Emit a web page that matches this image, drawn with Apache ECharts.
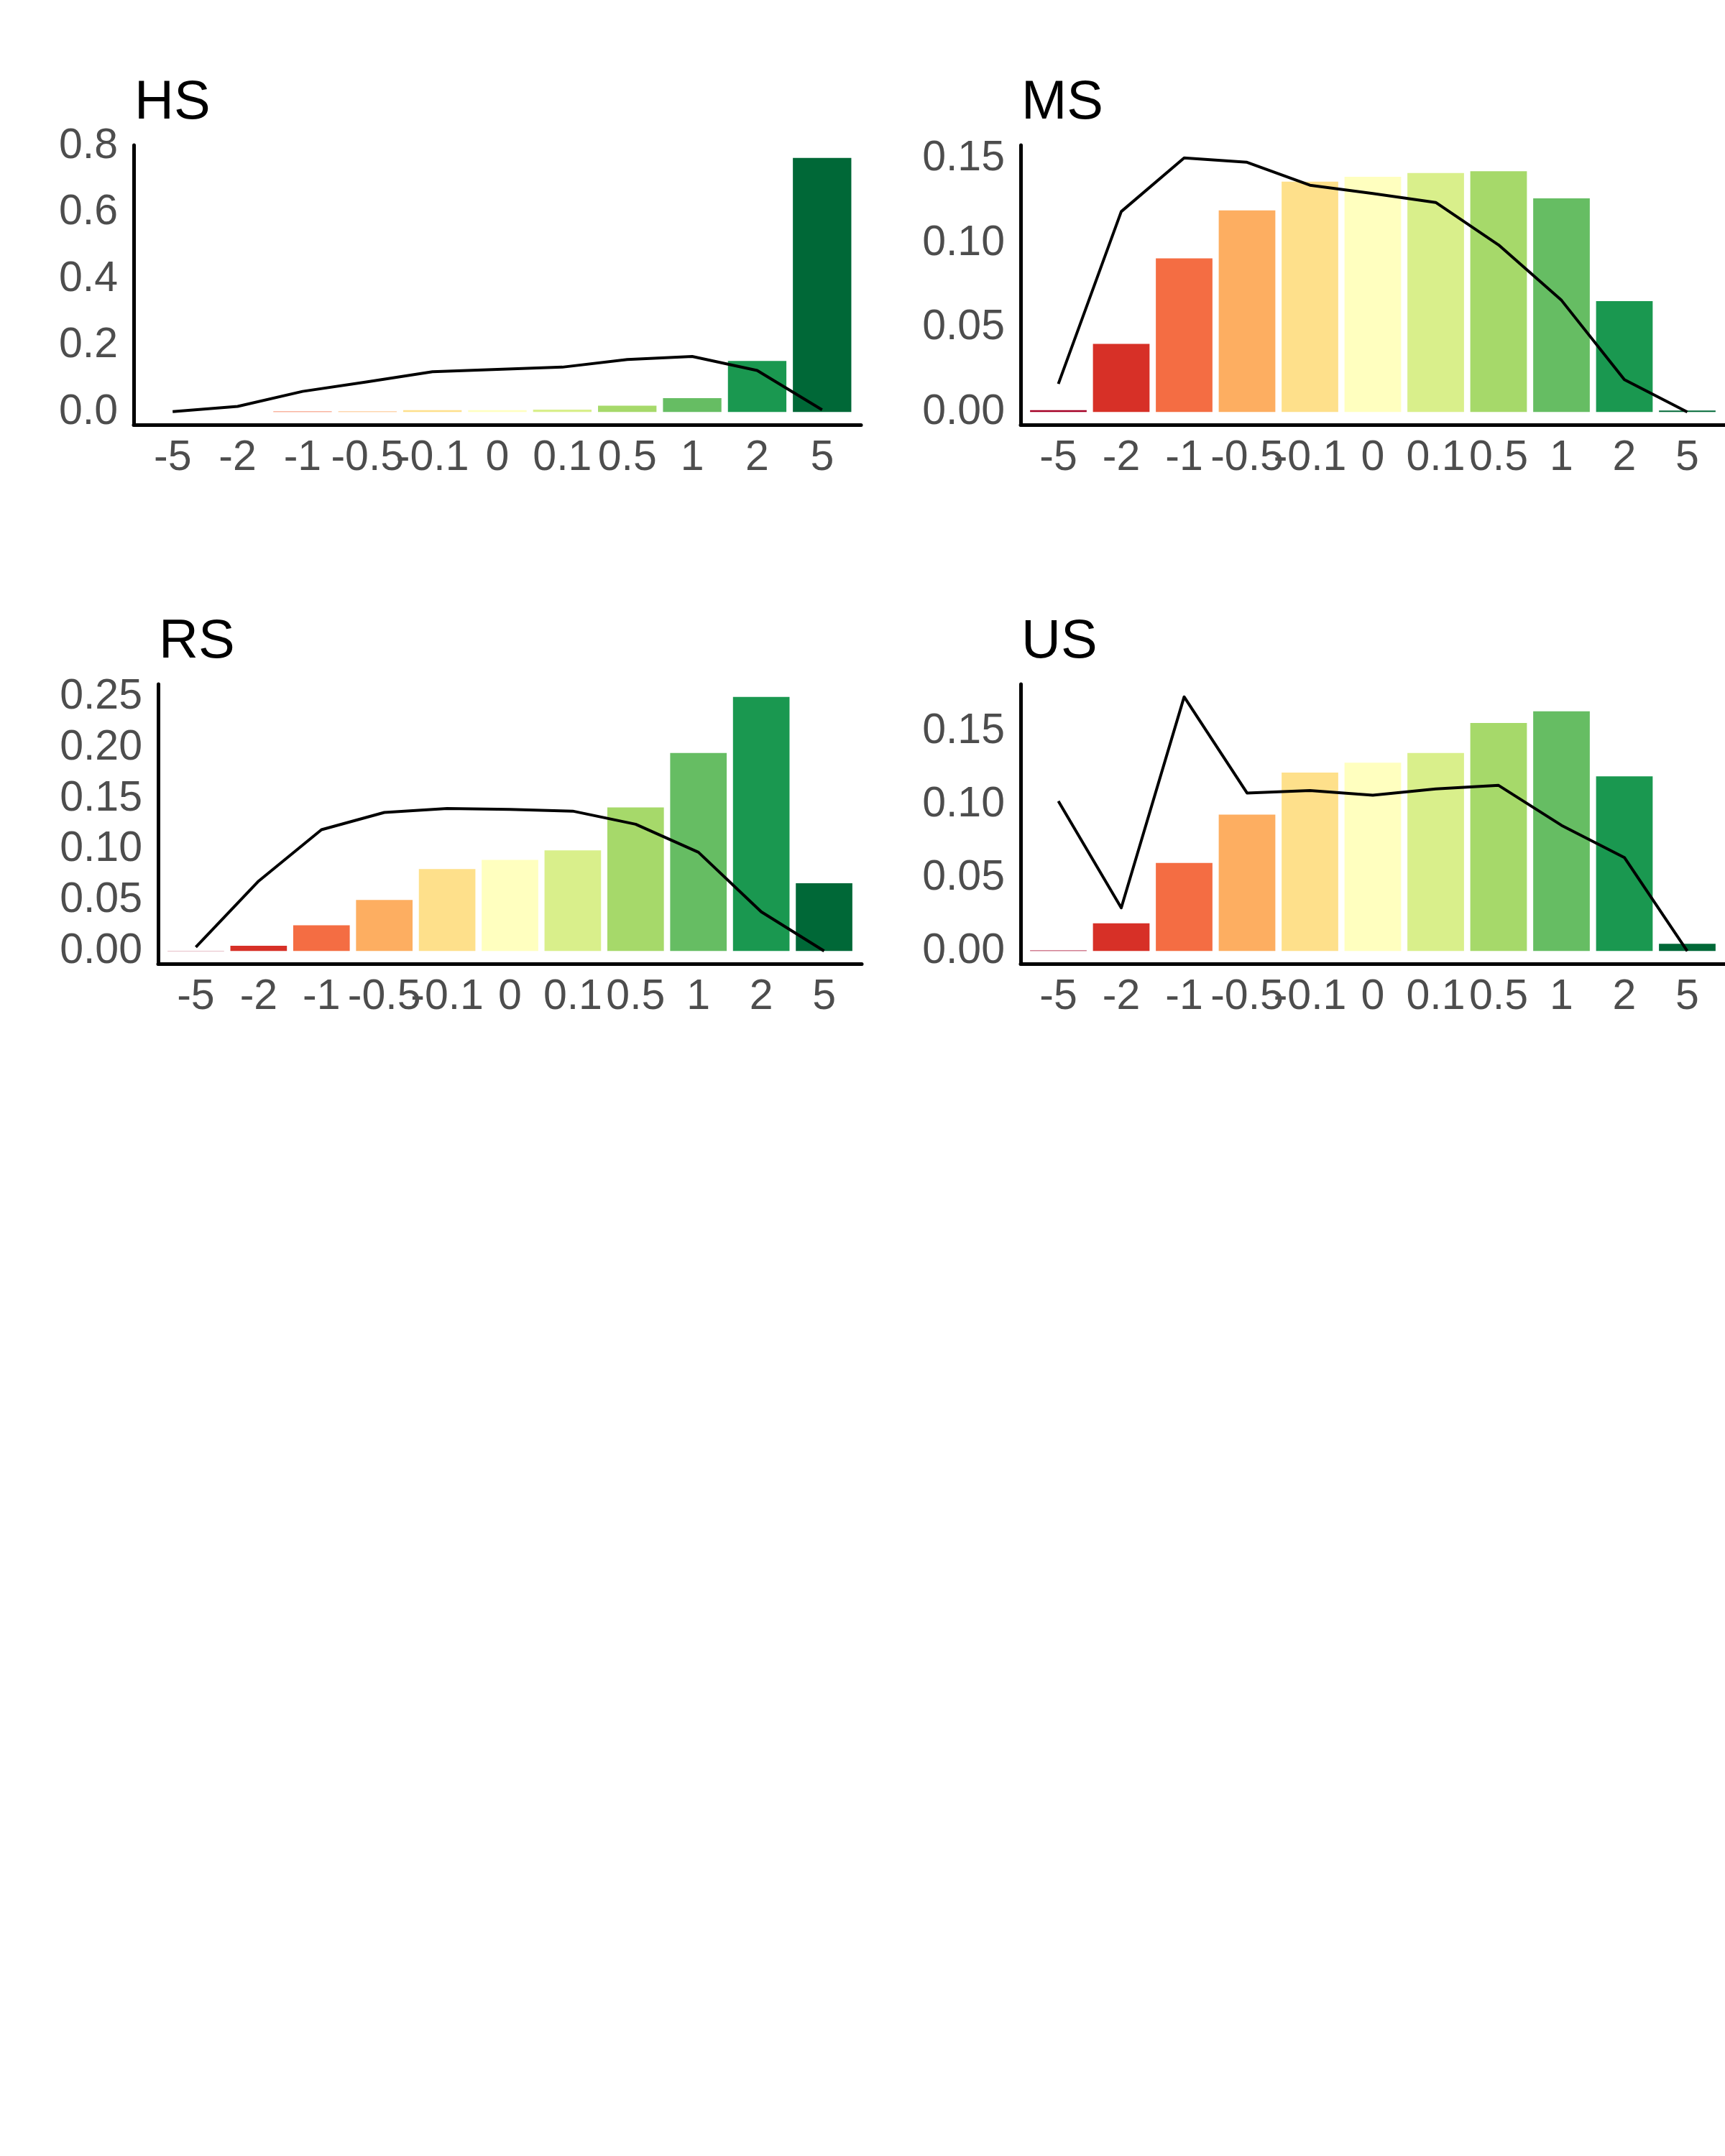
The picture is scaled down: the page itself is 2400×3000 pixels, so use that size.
<!DOCTYPE html>
<html>
<head>
<meta charset="utf-8">
<title>HS MS RS US</title>
<script src="https://cdn.jsdelivr.net/npm/echarts@6/dist/echarts.min.js"></script>
<style>
  html, body { margin: 0; padding: 0; background: #fff; }
  #main { width: 2400px; height: 3000px; }
</style>
</head>
<body>
<div id="main"></div>
<script>
const categories = ['-5', '-2', '-1', '-0.5', '-0.1', '0', '0.1', '0.5', '1', '2', '5']
const palette = ['#a50026', '#d73027', '#f46d43', '#fdae61', '#fee08b', '#ffffbf',
  '#d9ef8b', '#a6d96a', '#66bd63', '#1a9850', '#006837']

const panelNames = ['HS', 'MS', 'RS', 'US']

const hsBars = [0.0001, 0.0003, 0.0015, 0.0017, 0.0058, 0.0058, 0.0074, 0.019, 0.042, 0.1534, 0.7645]
const hsLine = [0.001, 0.017, 0.062, 0.091, 0.121, 0.128, 0.135, 0.158, 0.167, 0.125, 0.0066]
const msBars = [0.0011, 0.0404, 0.0911, 0.1195, 0.1365, 0.1394, 0.1416, 0.1427, 0.1266, 0.0657, 0.0009]
const msLine = [0.0167, 0.1188, 0.1506, 0.148, 0.1344, 0.1295, 0.1242, 0.099, 0.0662, 0.0192, 0.0]
const rsBars = [0.0002, 0.0051, 0.0254, 0.0503, 0.0808, 0.0897, 0.0992, 0.1414, 0.1951, 0.2503, 0.0668]
const rsLine = [0.0038, 0.0689, 0.1195, 0.1365, 0.1403, 0.1395, 0.1378, 0.1249, 0.0973, 0.0386, 0.0]
const usBars = [0.0004, 0.019, 0.0602, 0.0932, 0.122, 0.1287, 0.1353, 0.1558, 0.1638, 0.1194, 0.0049]
const usLine = [0.1024, 0.0295, 0.1737, 0.108, 0.1097, 0.1065, 0.1108, 0.1132, 0.0859, 0.0639, 0.0]

const hsTicks = [0, 0.2, 0.4, 0.6, 0.8]
const msTicks = [0, 0.05, 0.1, 0.15]
const rsTicks = [0, 0.05, 0.1, 0.15, 0.2, 0.25]
const usTicks = [0, 0.05, 0.1, 0.15]

const FONT = '"Liberation Sans", Arial, Helvetica, sans-serif'

// panel boxes (axis rectangle) in px
const boxes = [
  { left: 186, top: 202, width: 1012, height: 389 },
  { left: 1420, top: 202, width: 980, height: 389 },
  { left: 220, top: 952, width: 979, height: 389 },
  { left: 1420, top: 952, width: 980, height: 389 }
]
const panels = [
  { bars: hsBars, line: hsLine, ticks: hsTicks, digits: 1 },
  { bars: msBars, line: msLine, ticks: msTicks, digits: 2 },
  { bars: rsBars, line: rsLine, ticks: rsTicks, digits: 2 },
  { bars: usBars, line: usLine, ticks: usTicks, digits: 2 }
]

let grid = [], xAxis = [], yAxis = [], series = [], title = []
panels.forEach((p, k) => {
  let b = boxes[k]
  let top = Math.max(Math.max.apply(null, p.bars), Math.max.apply(null, p.line))
  grid.push({
    left: b.left, top: b.top, width: b.width, height: b.height,
    containLabel: false, outerBoundsMode: 'none'
  })
  title.push({
    text: panelNames[k],
    left: b.left + 1,
    top: b.top - 96,
    padding: 0,
    textStyle: { fontFamily: FONT, fontSize: 76, fontWeight: 'normal', color: '#000' }
  })
  xAxis.push({
    type: 'value',
    gridIndex: k,
    min: -0.6,
    max: 10.6,
    splitLine: { show: false },
    axisTick: { show: false },
    axisLine: { show: true, onZero: false, lineStyle: { color: '#000', width: 5 } },
    axisLabel: {
      customValues: categories.map((c, i) => i),
      formatter: function(v) { return categories[Math.round(v)] },
      color: '#4d4d4d',
      fontFamily: FONT,
      fontSize: 59,
      margin: 17,
      showMinLabel: true,
      showMaxLabel: true
    }
  })
  yAxis.push({
    type: 'value',
    gridIndex: k,
    min: -0.05 * top,
    max: 1.05 * top,
    splitLine: { show: false },
    axisTick: { show: false },
    axisLine: { show: true, onZero: false, lineStyle: { color: '#000', width: 5 } },
    axisLabel: {
      customValues: p.ticks,
      formatter: function(v) { return v.toFixed(p.digits) },
      color: '#4d4d4d',
      fontFamily: FONT,
      fontSize: 59,
      margin: 22,
      padding: [8, 0, 0, 0]
    }
  })
  series.push({
    type: 'bar',
    xAxisIndex: k,
    yAxisIndex: k,
    barWidth: b.width / 11.2 * 0.9,
    data: p.bars.map((v, i) => ({ value: [i, v], itemStyle: { color: palette[i] } })),
    silent: true,
    animation: false
  })
  series.push({
    type: 'line',
    xAxisIndex: k,
    yAxisIndex: k,
    symbol: 'none',
    z: 5,
    lineStyle: { color: '#000', width: 4, join: 'round' },
    data: p.line.map((v, i) => [i, v]),
    silent: true,
    animation: false
  })
})

let dom = document.getElementById('main')
let myChart = echarts.init(dom, null, { renderer: 'canvas' })
myChart.setOption({
  backgroundColor: '#fff',
  animation: false,
  title: title,
  grid: grid,
  xAxis: xAxis,
  yAxis: yAxis,
  series: series
})
</script>
</body>
</html>
